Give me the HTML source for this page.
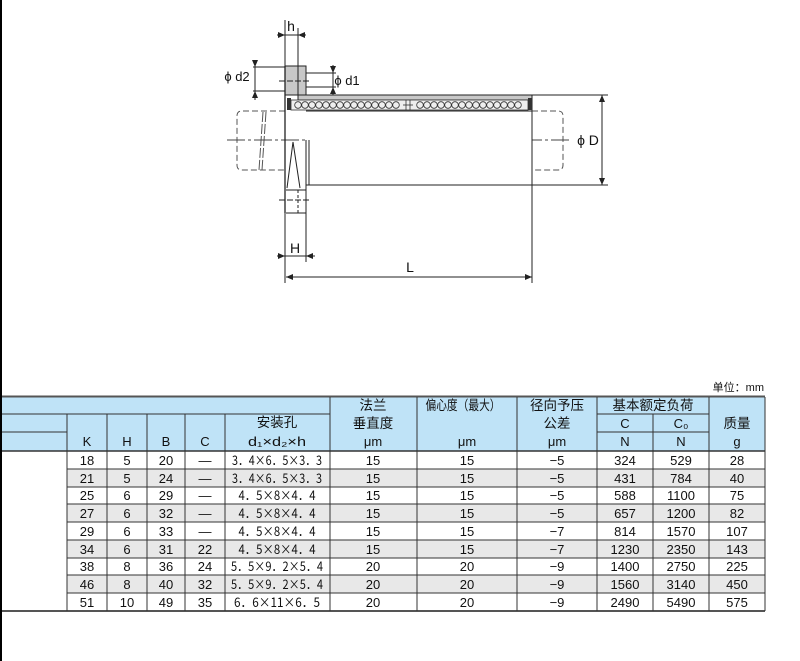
<!DOCTYPE html>
<html><head><meta charset="utf-8"><style>
html,body{margin:0;padding:0;background:#fff}
svg{display:block}
text{font-family:"Liberation Sans","Noto Sans CJK SC",sans-serif;fill:#111}
.t{font-size:13px;text-anchor:middle}
.c{font-family:"Liberation Sans","Noto Sans CJK SC",sans-serif;font-size:13.5px;text-anchor:middle}
.m{font-family:"Noto Sans CJK SC",sans-serif}
</style></head><body>
<svg width="800" height="661" viewBox="0 0 800 661" xmlns="http://www.w3.org/2000/svg">
<rect x="0" y="0" width="2" height="661" fill="#000"/>

<g stroke="#222" stroke-width="1" fill="none">
 <path d="M285 111 H242 Q237 111 237 116 V165 Q237 170 242 170 H285" stroke-dasharray="6,3" stroke="#555"/>
 <path d="M532 111 H558 Q563 111 563 116 V165 Q563 170 558 170 H532" stroke-dasharray="6,3" stroke="#555"/>
 <path d="M263 112 L259 170 M266 112 L262 170" stroke-dasharray="10,2" stroke="#555"/>
 <line x1="227" y1="140" x2="572" y2="140" stroke-dasharray="18,3,3,3" stroke="#444"/>
 <path d="M306 95 H532 V185 H306" fill="#fff"/>
 <line x1="306" y1="111" x2="532" y2="111"/>
 <line x1="306" y1="140" x2="306" y2="185"/>
 <line x1="309" y1="140" x2="309" y2="185"/>
 <path d="M298 95 H532 V100 H298 Z" fill="#c8c8c8"/>
 <path d="M287 98 H291 V110 H287 Z" fill="#333" stroke="none"/>
 <path d="M528 98 H532 V110 H528 Z" fill="#333" stroke="none"/>
 <path d="M285 66 H306 V95 H285 Z" fill="#c8c8c8"/>
 <path d="M288 66 H298 V95" fill="none"/>
 <line x1="285" y1="66" x2="285" y2="213" stroke-width="1.3"/>
 <line x1="306" y1="140" x2="306" y2="213"/>
 <path d="M286 190 H306 V213 H286" />
 <path d="M298 190 V213" stroke-dasharray="3,2"/>
 <path d="M293 142 L287 188 M293 142 L300 188"/>
 <line x1="279" y1="200" x2="311" y2="200" stroke-dasharray="6,2"/>
 <line x1="279" y1="81" x2="311" y2="81" stroke-dasharray="6,2"/>
 <line x1="285" y1="20" x2="285" y2="66"/>
 <line x1="298" y1="28" x2="298" y2="66"/>
 <path d="M277 35 H306"/>
 <line x1="253" y1="67" x2="285" y2="67"/><line x1="253" y1="91" x2="285" y2="91"/>
 <line x1="255" y1="60" x2="255" y2="100"/>
 <line x1="306" y1="73" x2="336" y2="73"/><line x1="306" y1="87" x2="336" y2="87"/>
 <line x1="333" y1="65" x2="333" y2="95"/>
 <line x1="532" y1="95" x2="608" y2="95"/><line x1="532" y1="185" x2="608" y2="185"/>
 <line x1="602" y1="95" x2="602" y2="185"/>
 <line x1="285" y1="213" x2="285" y2="283"/>
 <line x1="306" y1="213" x2="306" y2="262"/>
 <line x1="532" y1="185" x2="532" y2="283"/>
 <line x1="277" y1="256" x2="315" y2="256"/>
 <line x1="286" y1="277" x2="532" y2="277"/>
</g>
<g fill="#222">
 <path d="M602 95 l-3 7 h6z M602 185 l-3 -7 h6z"/>
 <path d="M286 277 l7 -3 v6z M532 277 l-7 -3 v6z"/>
 <path d="M285 256 l-7 -3 v6z M306 256 l7 -3 v6z"/>
 <path d="M285 35 l-7 -3 v6z M298 35 l7 -3 v6z"/>
 <path d="M255 67 l-3 -7 h6z M255 91 l-3 7 h6z"/>
 <path d="M333 73 l-3 -7 h6z M333 87 l-3 7 h6z"/>
</g>
<rect x="291" y="100" width="237" height="10" fill="#eee" stroke="#333" stroke-width="0.8"/>
<g fill="none" stroke="#333" stroke-width="0.8">
 <circle cx="298" cy="105" r="3.3"/><circle cx="305" cy="105" r="3.3"/><circle cx="312" cy="105" r="3.3"/><circle cx="319" cy="105" r="3.3"/><circle cx="326" cy="105" r="3.3"/><circle cx="333" cy="105" r="3.3"/><circle cx="340" cy="105" r="3.3"/><circle cx="347" cy="105" r="3.3"/><circle cx="354" cy="105" r="3.3"/><circle cx="361" cy="105" r="3.3"/><circle cx="368" cy="105" r="3.3"/><circle cx="375" cy="105" r="3.3"/><circle cx="382" cy="105" r="3.3"/><circle cx="389" cy="105" r="3.3"/><circle cx="396" cy="105" r="3.3"/>
 <line x1="406" y1="100" x2="406" y2="110"/><line x1="410" y1="100" x2="410" y2="110"/><line x1="403" y1="105" x2="413" y2="105"/>
 <circle cx="420" cy="105" r="3.3"/><circle cx="427" cy="105" r="3.3"/><circle cx="434" cy="105" r="3.3"/><circle cx="441" cy="105" r="3.3"/><circle cx="448" cy="105" r="3.3"/><circle cx="455" cy="105" r="3.3"/><circle cx="462" cy="105" r="3.3"/><circle cx="469" cy="105" r="3.3"/><circle cx="476" cy="105" r="3.3"/><circle cx="483" cy="105" r="3.3"/><circle cx="490" cy="105" r="3.3"/><circle cx="497" cy="105" r="3.3"/><circle cx="504" cy="105" r="3.3"/><circle cx="511" cy="105" r="3.3"/><circle cx="518" cy="105" r="3.3"/>
</g>
<text x="291" y="31" font-size="14" text-anchor="middle">h</text>
<text x="237" y="81" font-size="13" text-anchor="middle">ϕ d2</text>
<text x="347" y="85" font-size="13" text-anchor="middle">ϕ d1</text>
<text x="588" y="145" font-size="14" text-anchor="middle">ϕ D</text>
<text x="295" y="253" font-size="14" text-anchor="middle">H</text>
<text x="410" y="272" font-size="14" text-anchor="middle">L</text>

<text x="764" y="391" font-size="11" text-anchor="end">单位：mm</text>
<rect x="2" y="397" width="763" height="54" fill="#bfe3f7"/>
<g fill="#e8e8e8">
 <rect x="67" y="469" width="698" height="18"/>
 <rect x="67" y="504" width="698" height="18"/>
 <rect x="67" y="540" width="698" height="18"/>
 <rect x="67" y="575" width="698" height="18"/>
</g>
<g stroke="#333" stroke-width="1">
 <line x1="2" y1="396.5" x2="765" y2="396.5" stroke-width="2" stroke="#555"/>
 <line x1="2" y1="414" x2="330" y2="414"/>
 <line x1="597" y1="414" x2="709" y2="414"/>
 <line x1="2" y1="432" x2="67" y2="432"/>
 <line x1="597" y1="432" x2="709" y2="432"/>
 <line x1="2" y1="451" x2="765" y2="451" stroke-width="1.5"/>
 <line x1="67" y1="469" x2="765" y2="469"/>
 <line x1="67" y1="487" x2="765" y2="487"/>
 <line x1="67" y1="504" x2="765" y2="504"/>
 <line x1="67" y1="522" x2="765" y2="522"/>
 <line x1="67" y1="540" x2="765" y2="540"/>
 <line x1="67" y1="558" x2="765" y2="558"/>
 <line x1="67" y1="575" x2="765" y2="575"/>
 <line x1="67" y1="593" x2="765" y2="593"/>
 <line x1="2" y1="611" x2="765" y2="611" stroke-width="2" stroke="#555"/>
 <line x1="67" y1="414" x2="67" y2="611"/>
 <line x1="107" y1="414" x2="107" y2="611"/>
 <line x1="147" y1="414" x2="147" y2="611"/>
 <line x1="185" y1="414" x2="185" y2="611"/>
 <line x1="225" y1="414" x2="225" y2="611"/>
 <line x1="330" y1="397" x2="330" y2="611"/>
 <line x1="417" y1="397" x2="417" y2="611"/>
 <line x1="517" y1="397" x2="517" y2="611"/>
 <line x1="597" y1="397" x2="597" y2="611"/>
 <line x1="653" y1="414" x2="653" y2="611"/>
 <line x1="709" y1="397" x2="709" y2="611"/>
 <line x1="765" y1="397" x2="765" y2="611"/>
</g>
<g>
 <text class="c" x="373" y="410">法兰</text>
 <text class="c" x="373" y="428">垂直度</text>
 <text class="t" x="373" y="446" font-size="12">μm</text>
 <text class="c" x="463" y="410" textLength="75" lengthAdjust="spacingAndGlyphs">偏心度（最大）</text>
 <text class="t" x="467" y="446" font-size="12">μm</text>
 <text class="c" x="557" y="410">径向予压</text>
 <text class="c" x="557" y="428">公差</text>
 <text class="t" x="557" y="446" font-size="12">μm</text>
 <text class="c" x="653" y="410">基本额定负荷</text>
 <text class="t" x="625" y="428">C</text><text class="t" x="681" y="428">C₀</text>
 <text class="t" x="625" y="446">N</text><text class="t" x="681" y="446">N</text>
 <text class="c" x="737" y="428">质量</text>
 <text class="t" x="737" y="446">g</text>
 <text class="c" x="277" y="427">安装孔</text>
 <text class="t" x="277" y="446" textLength="58" lengthAdjust="spacingAndGlyphs">d₁×d₂×h</text>
 <text class="t" x="87" y="446">K</text><text class="t" x="127" y="446">H</text>
 <text class="t" x="166" y="446">B</text><text class="t" x="205" y="446">C</text>
</g>
<g font-size="13" text-anchor="middle">
 <g transform="translate(0,465)">
  <text x="87">18</text><text x="127">5</text><text x="166">20</text><text x="205">—</text><text x="277" class="m" textLength="90" lengthAdjust="spacingAndGlyphs">3．4×6．5×3．3</text><text x="373">15</text><text x="467">15</text><text x="557">−5</text><text x="625">324</text><text x="681">529</text><text x="737">28</text></g>
 <g transform="translate(0,483)">
  <text x="87">21</text><text x="127">5</text><text x="166">24</text><text x="205">—</text><text x="277" class="m" textLength="90" lengthAdjust="spacingAndGlyphs">3．4×6．5×3．3</text><text x="373">15</text><text x="467">15</text><text x="557">−5</text><text x="625">431</text><text x="681">784</text><text x="737">40</text></g>
 <g transform="translate(0,500)">
  <text x="87">25</text><text x="127">6</text><text x="166">29</text><text x="205">—</text><text x="277" class="m" textLength="77" lengthAdjust="spacingAndGlyphs">4．5×8×4．4</text><text x="373">15</text><text x="467">15</text><text x="557">−5</text><text x="625">588</text><text x="681">1100</text><text x="737">75</text></g>
 <g transform="translate(0,518)">
  <text x="87">27</text><text x="127">6</text><text x="166">32</text><text x="205">—</text><text x="277" class="m" textLength="77" lengthAdjust="spacingAndGlyphs">4．5×8×4．4</text><text x="373">15</text><text x="467">15</text><text x="557">−5</text><text x="625">657</text><text x="681">1200</text><text x="737">82</text></g>
 <g transform="translate(0,536)">
  <text x="87">29</text><text x="127">6</text><text x="166">33</text><text x="205">—</text><text x="277" class="m" textLength="77" lengthAdjust="spacingAndGlyphs">4．5×8×4．4</text><text x="373">15</text><text x="467">15</text><text x="557">−7</text><text x="625">814</text><text x="681">1570</text><text x="737">107</text></g>
 <g transform="translate(0,554)">
  <text x="87">34</text><text x="127">6</text><text x="166">31</text><text x="205">22</text><text x="277" class="m" textLength="77" lengthAdjust="spacingAndGlyphs">4．5×8×4．4</text><text x="373">15</text><text x="467">15</text><text x="557">−7</text><text x="625">1230</text><text x="681">2350</text><text x="737">143</text></g>
 <g transform="translate(0,571)">
  <text x="87">38</text><text x="127">8</text><text x="166">36</text><text x="205">24</text><text x="277" class="m" textLength="92" lengthAdjust="spacingAndGlyphs">5．5×9．2×5．4</text><text x="373">20</text><text x="467">20</text><text x="557">−9</text><text x="625">1400</text><text x="681">2750</text><text x="737">225</text></g>
 <g transform="translate(0,589)">
  <text x="87">46</text><text x="127">8</text><text x="166">40</text><text x="205">32</text><text x="277" class="m" textLength="92" lengthAdjust="spacingAndGlyphs">5．5×9．2×5．4</text><text x="373">20</text><text x="467">20</text><text x="557">−9</text><text x="625">1560</text><text x="681">3140</text><text x="737">450</text></g>
 <g transform="translate(0,607)">
  <text x="87">51</text><text x="127">10</text><text x="166">49</text><text x="205">35</text><text x="277" class="m" textLength="86" lengthAdjust="spacingAndGlyphs">6．6×11×6．5</text><text x="373">20</text><text x="467">20</text><text x="557">−9</text><text x="625">2490</text><text x="681">5490</text><text x="737">575</text></g>
</g>
</svg>
</body></html>
